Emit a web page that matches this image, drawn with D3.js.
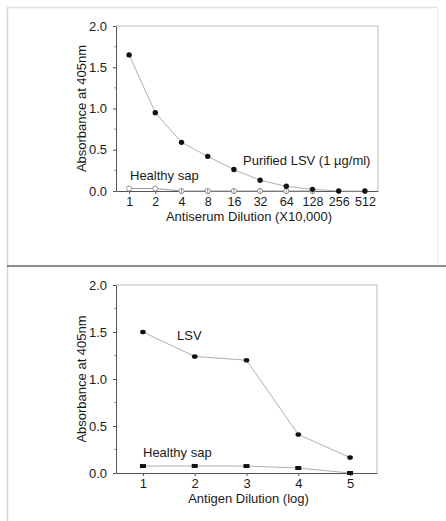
<!DOCTYPE html>
<html>
<head>
<meta charset="utf-8">
<script src="https://cdn.jsdelivr.net/npm/d3@7"></script>
<style>
  html, body { margin: 0; padding: 0; background: #fff; }
  svg { display: block; font-family: Arial, "Liberation Sans", sans-serif; }
</style>
</head>
<body>
<svg id="chart" width="446" height="521"></svg>
<script>
// Panel A: antiserum dilution series (x 10,000), log2 steps
const dilutionLabels = ["1", "2", "4", "8", "16", "32", "64", "128", "256", "512"];
const purifiedLSV = [1.65, 0.95, 0.59, 0.42, 0.26, 0.13, 0.057, 0.02, 0.0, 0.0];
const healthySapA = [0.03, 0.03, 0.0, 0.0, 0.0, 0.0, 0.0, 0.0, null, null];

// Panel B: antigen dilution (log)
const antigenDilution = [1, 2, 3, 4, 5];
const lsvB = [1.5, 1.24, 1.2, 0.41, 0.165];
const healthySapB = [0.074, 0.075, 0.074, 0.053, 0.0];

const yTicks = [0, 0.5, 1.0, 1.5, 2.0];
const yMinor = [0.25, 0.75, 1.25, 1.75];

const svg = d3.select("#chart");
const axisColor = "#555";
const lineColor = "#b0b0b0";
const textColor = "#1a1a1a";

// Page frame
svg.append("line").attr("x1", 7.5).attr("x2", 7.5).attr("y1", 7).attr("y2", 521)
  .attr("stroke", "#d4d4d4").attr("stroke-width", 1.5);
svg.append("line").attr("x1", 7).attr("x2", 438).attr("y1", 7.5).attr("y2", 7.5)
  .attr("stroke", "#e0e0e0").attr("stroke-width", 1.5);
svg.append("line").attr("x1", 437.5).attr("x2", 437.5).attr("y1", 7).attr("y2", 266)
  .attr("stroke", "#eeeeee").attr("stroke-width", 1.5);
svg.append("line").attr("x1", 7).attr("x2", 446).attr("y1", 266).attr("y2", 266)
  .attr("stroke", "#666").attr("stroke-width", 1.5);

function drawFrame(g, x, y, xLabelText, tickValues, tickFormat, xTickFont) {
  const [x0, x1] = x.range();
  const [y0, y1] = y.range();
  // top and right border
  g.append("path")
    .attr("d", `M${x0},${y1}H${x1}V${y0}`)
    .attr("fill", "none").attr("stroke", "#bbb").attr("stroke-width", 1);

  const yAxis = d3.axisLeft(y).tickValues(yTicks).tickFormat(d3.format(".1f"))
    .tickSizeInner(3).tickSizeOuter(0).tickPadding(6);
  const ya = g.append("g").attr("transform", `translate(${x0},0)`).call(yAxis);
  ya.select(".domain").attr("stroke", axisColor);
  ya.selectAll(".tick line").attr("stroke", axisColor);
  ya.selectAll(".tick text").attr("font-size", 13).attr("fill", textColor)
    .attr("font-family", "Arial, 'Liberation Sans', sans-serif");
  g.append("g").selectAll("line").data(yMinor).join("line")
    .attr("x1", x0 - 2).attr("x2", x0).attr("y1", d => y(d)).attr("y2", d => y(d))
    .attr("stroke", "#999");

  const xAxis = d3.axisBottom(x).tickValues(tickValues).tickFormat(tickFormat)
    .tickSizeInner(3).tickSizeOuter(0).tickPadding(3);
  const xa = g.append("g").attr("transform", `translate(0,${y0})`).call(xAxis);
  xa.select(".domain").attr("stroke", axisColor);
  xa.selectAll(".tick line").attr("stroke", axisColor);
  xa.selectAll(".tick text").attr("font-size", xTickFont).attr("fill", textColor)
    .attr("font-family", "Arial, 'Liberation Sans', sans-serif");

  g.append("text").attr("x", (x0 + x1) / 2 + 2).attr("y", y0 + 30)
    .attr("text-anchor", "middle").attr("font-size", 13).attr("fill", textColor)
    .text(xLabelText);
  g.append("text")
    .attr("transform", `translate(${x0 - 30},${(y0 + y1) / 2}) rotate(-90)`)
    .attr("text-anchor", "middle").attr("font-size", 13).attr("fill", textColor)
    .text("Absorbance at 405nm");
}

// ---------- Panel A ----------
{
  const g = svg.append("g");
  const x = d3.scaleLinear().domain([-0.5, 9.5]).range([116, 378]);
  const y = d3.scaleLinear().domain([0, 2]).range([191, 26]);
  const idx = d3.range(dilutionLabels.length);
  drawFrame(g, x, y, "Antiserum Dilution (X10,000)", idx, i => dilutionLabels[i], 12.5);

  const line = d3.line().defined(d => d[1] !== null).x(d => x(d[0])).y(d => y(d[1]));
  const sapPts = idx.map(i => [i, healthySapA[i]]);
  g.append("path").datum(sapPts).attr("d", line)
    .attr("fill", "none").attr("stroke", "#999").attr("stroke-width", 1);
  const sapMarks = sapPts.filter(d => d[1] !== null);
  g.selectAll(".sapA").data(sapMarks).join("circle")
    .attr("cx", d => x(d[0])).attr("cy", d => y(d[1])).attr("r", 2.6)
    .attr("fill", "#fff").attr("stroke", "#888").attr("stroke-width", 0.9);
  // tick marks show through the open symbols sitting on the baseline
  g.selectAll(".sapTick").data(sapMarks.filter(d => d[1] === 0)).join("line")
    .attr("x1", d => x(d[0])).attr("x2", d => x(d[0]))
    .attr("y1", d => y(d[1]) - 2.6).attr("y2", d => y(d[1]) + 2.6)
    .attr("stroke", "#888").attr("stroke-width", 0.8);

  const lsvPts = idx.map(i => [i, purifiedLSV[i]]);
  g.append("path").datum(lsvPts).attr("d", line)
    .attr("fill", "none").attr("stroke", lineColor).attr("stroke-width", 1);
  g.selectAll(".lsvA").data(lsvPts).join("circle")
    .attr("cx", d => x(d[0])).attr("cy", d => y(d[1])).attr("r", 2.7)
    .attr("fill", "#111");

  g.append("text").attr("x", 130).attr("y", 180).attr("font-size", 13).attr("fill", textColor)
    .text("Healthy sap");
  g.append("text").attr("x", 243).attr("y", 165).attr("font-size", 13).attr("fill", textColor)
    .text("Purified LSV (1 µg/ml)");
}

// ---------- Panel B ----------
{
  const g = svg.append("g");
  const x = d3.scaleLinear().domain([0.48, 5.52]).range([116, 377]);
  const y = d3.scaleLinear().domain([0, 2]).range([473, 285]);
  drawFrame(g, x, y, "Antigen Dilution (log)", antigenDilution, d3.format("d"), 13);

  const line = d3.line().x(d => x(d[0])).y(d => y(d[1]));
  const lsvPts = antigenDilution.map((d, i) => [d, lsvB[i]]);
  g.append("path").datum(lsvPts).attr("d", line)
    .attr("fill", "none").attr("stroke", lineColor).attr("stroke-width", 1);
  g.selectAll(".lsvB").data(lsvPts).join("ellipse")
    .attr("cx", d => x(d[0])).attr("cy", d => y(d[1])).attr("rx", 2.8).attr("ry", 2.3)
    .attr("fill", "#111");

  const sapPts = antigenDilution.map((d, i) => [d, healthySapB[i]]);
  g.append("path").datum(sapPts).attr("d", line)
    .attr("fill", "none").attr("stroke", lineColor).attr("stroke-width", 1);
  g.selectAll(".sapB").data(sapPts).join("rect")
    .attr("x", d => x(d[0]) - 3).attr("y", d => y(d[1]) - 2).attr("width", 6).attr("height", 4)
    .attr("fill", "#111");

  g.append("text").attr("x", 177).attr("y", 340).attr("font-size", 13).attr("fill", textColor)
    .text("LSV");
  g.append("text").attr("x", 143).attr("y", 457).attr("font-size", 13).attr("fill", textColor)
    .text("Healthy sap");
}
</script>
</body>
</html>
